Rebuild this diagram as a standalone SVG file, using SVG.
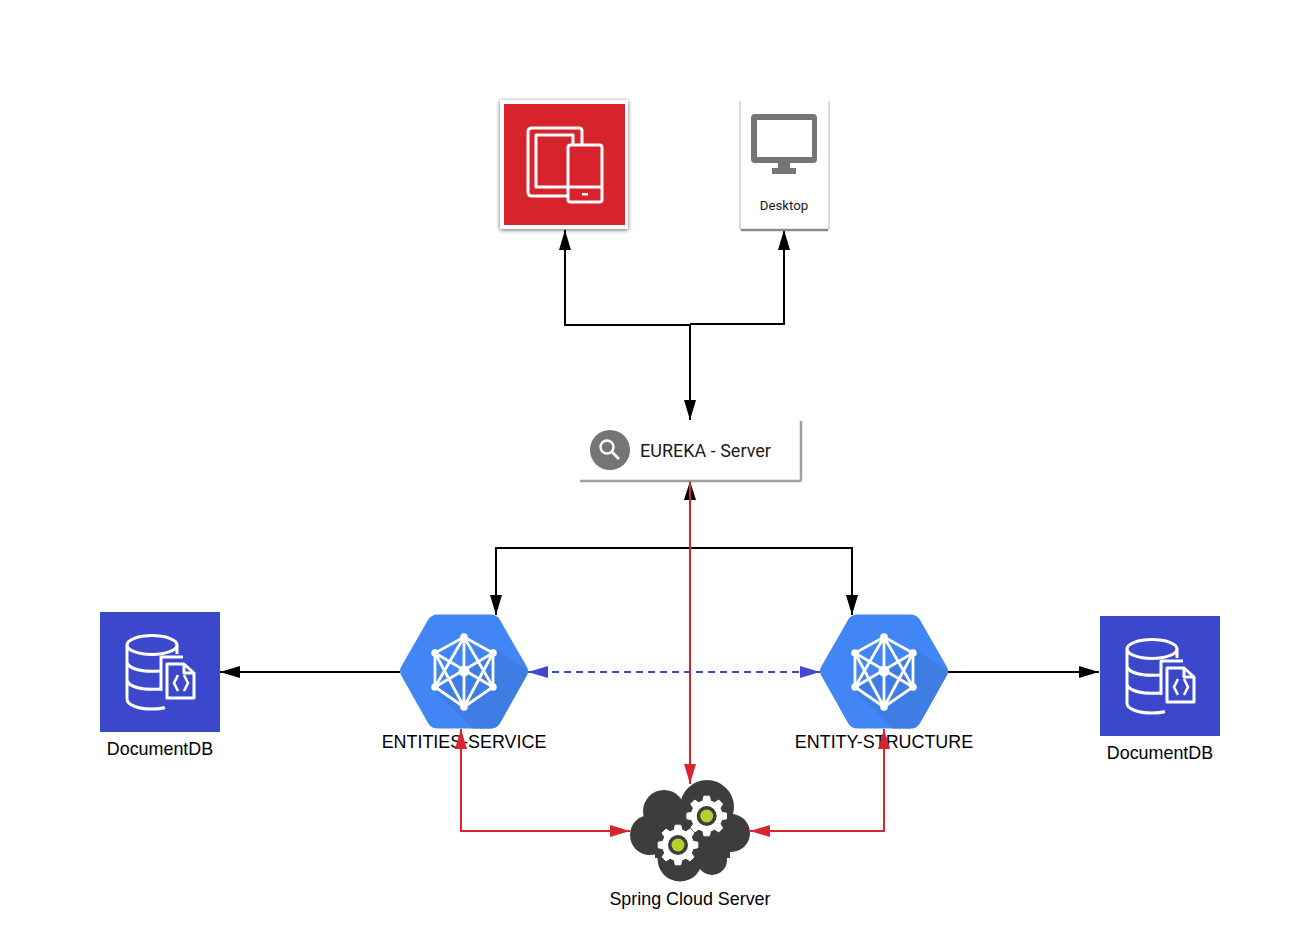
<svg xmlns="http://www.w3.org/2000/svg" width="1291" height="952" viewBox="0 0 1291 952">
<style>
text{font-family:"Liberation Sans",Arial,sans-serif;fill:#000}
.lbl{font-size:17.9px;text-anchor:middle}
.rob{font-family:Roboto,"Liberation Sans",sans-serif;fill:#1a1a1a}
.c{fill:none;stroke:#000;stroke-width:2}
.r{fill:none;stroke:#d9232d;stroke-width:2}
.b{fill:none;stroke:#3f48cc;stroke-width:2;stroke-dasharray:7 5}
.w{fill:none;stroke:#fff;stroke-width:3;stroke-linejoin:round}
.t{fill:none;stroke:#fff;stroke-width:2.8}
</style>
<defs>
<marker id="ak" markerUnits="userSpaceOnUse" viewBox="0 0 20 12" refX="20" refY="6" markerWidth="20" markerHeight="12" orient="auto-start-reverse"><path d="M0 0L20 6L0 12Z" fill="#000"/></marker>
<marker id="ar" markerUnits="userSpaceOnUse" viewBox="0 0 20 12" refX="20" refY="6" markerWidth="20" markerHeight="12" orient="auto-start-reverse"><path d="M0 0L20 6L0 12Z" fill="#d9232d"/></marker>
<marker id="ab" markerUnits="userSpaceOnUse" viewBox="0 0 20 12" refX="20" refY="6" markerWidth="20" markerHeight="12" orient="auto-start-reverse"><path d="M0 0L20 6L0 12Z" fill="#3f48cc"/></marker>
<filter id="sh" x="-10%" y="-10%" width="120%" height="120%"><feDropShadow dx="0" dy="1" stdDeviation="2" flood-color="#000" flood-opacity=".6"/></filter>
<g id="hex">
<path d="M428 620Q431 614.500 438 614.500H490Q497 614.500 500 620L527 667Q529 671 527 675L500 723Q497 728.500 490 728.500H438Q431 728.500 428 723L401 675Q399 671 401 667Z" fill="#4285f4"/>
<path d="M434 690L472.500 728.500H490Q497 728.500 500 723L527 675Q528 673 527.500 671L497 650Z" fill="#3d7de4"/>
<path d="M464 637L493 653V687L464 707L435 687V653Z" class="t"/>
<path d="M464 637V707M435 653L493 687M493 653L435 687M464 637L435 687M464 637L493 687M464 707L435 653M464 707L493 653" class="t"/>
<g fill="#fff"><circle cx="464" cy="637" r="3.800"/><circle cx="435" cy="653" r="3.800"/><circle cx="493" cy="653" r="3.800"/><circle cx="435" cy="687" r="3.800"/><circle cx="493" cy="687" r="3.800"/><circle cx="464" cy="707" r="3.800"/><circle cx="464" cy="671" r="5.500"/></g>
</g>
<g id="ddb">
<rect x="100" y="612" width="120" height="120" fill="#3b48cc"/>
<g class="w">
<ellipse cx="152" cy="645" rx="25" ry="9.500"/>
<path d="M127 645V699C127 705 138 709 152 709C157 709 162 708.500 165 707.500M177 645V654"/>
<path d="M127 663C130 669 142 672 160 671M127 681C130 687 142 690 160 689"/>
<path d="M161 691V657H183"/>
<path d="M167 698V664H184L194 673V698Z"/>
<path d="M184 664V673H194"/>
</g>
<path d="M178 675L174 683L178 691M184 675L188 683L184 691" fill="none" stroke="#fff" stroke-width="2.600"/>
</g>
<g id="gear">
<path d="M15.04-3.75L19.81-2.78L19.81 2.78L15.04 3.75L13.29 7.98L15.97 12.04L12.04 15.97L7.98 13.29L3.75 15.04L2.78 19.81L-2.78 19.81L-3.75 15.04L-7.98 13.29L-12.04 15.97L-15.97 12.04L-13.29 7.98L-15.04 3.75L-19.81 2.78L-19.81-2.78L-15.04-3.75L-13.29-7.98L-15.97-12.04L-12.04-15.97L-7.98-13.29L-3.75-15.04L-2.78-19.81L2.78-19.81L3.75-15.04L7.98-13.29L12.04-15.97L15.97-12.04L13.29-7.98Z" fill="#fff" stroke="#fff" stroke-width="1" stroke-linejoin="round"/>
<circle r="10" fill="#3d3d3d"/>
<circle r="6.500" fill="#b5d22c"/>
</g>
</defs>

<g id="connectors">
<path class="c" d="M690 325H565V230" marker-end="url(#ak)"/>
<path class="c" d="M690 324H784V230" marker-end="url(#ak)"/>
<path class="c" d="M690 325V420" marker-end="url(#ak)"/>
<path class="c" d="M496 615V548H852V615" marker-start="url(#ak)" marker-end="url(#ak)"/>
<path class="c" d="M400 672H220" marker-end="url(#ak)"/>
<path class="c" d="M948 672H1099" marker-end="url(#ak)"/>
<path class="b" d="M528 672H820" marker-start="url(#ab)" marker-end="url(#ab)"/>
</g>

<g id="node-mobile">
<rect x="500" y="100" width="128" height="129" fill="#fff" filter="url(#sh)"/>
<rect x="504" y="104" width="121" height="121" fill="#d6232c"/>
<g class="w">
<path d="M582 144V131Q582 128 579 128H532Q528 128 528 132V192Q528 196 532 196H567"/>
<path d="M573 144V135H536V187H567"/>
<rect x="568" y="145" width="34" height="57" rx="2.500"/>
<path d="M568 187H602"/>
</g>
<rect x="582" y="193" width="6" height="2.500" fill="#fff"/>
</g>

<g id="node-desktop">
<path d="M740 101V229Q740 230 741 230H828Q829 230 829 229V101" fill="#fff"/>
<path d="M740 101V228Q740 230 742 230H827Q829 230 829 228V101" fill="none" stroke="#b5b5b5" stroke-width="1"/>
<path d="M741 230H828" stroke="#8a8a8a" stroke-width="2.500"/>
<path d="M755 114H813Q817 114 817 118V159Q817 163 813 163H755Q751 163 751 159V118Q751 114 755 114ZM757 120V157H812V120Z" fill="#757575" fill-rule="evenodd"/>
<path d="M778 163H790V168H796V174H772V168H778Z" fill="#757575"/>
<text class="rob" x="784" y="209.500" font-size="13.300" text-anchor="middle">Desktop</text>
</g>

<g id="node-eureka">
<path d="M580 420H801V479Q801 481 799 481H580Z" fill="#fff"/>
<path d="M801 421V479Q801 481 799 481H580" fill="none" stroke="#a0a0a0" stroke-width="2.500"/>
<circle cx="610" cy="450" r="20" fill="#757575"/>
<circle cx="607" cy="447" r="6.500" fill="none" stroke="#fff" stroke-width="2.400"/>
<path d="M612 452L619 459" stroke="#fff" stroke-width="2.600"/>
<text class="rob" x="640" y="456.500" font-size="18">EUREKA - Server</text>
</g>

<g id="node-ddb1">
<use href="#ddb"/>
<text class="lbl" x="160" y="755">DocumentDB</text>
</g>

<g id="node-ddb2">
<use href="#ddb" x="1000" y="4"/>
<text class="lbl" x="1160" y="759">DocumentDB</text>
</g>

<g id="node-entities">
<use href="#hex"/>
<text class="lbl" x="464" y="747.500">ENTITIES-SERVICE</text>
</g>

<g id="node-structure">
<use href="#hex" x="420"/>
<text class="lbl" x="884" y="747.500">ENTITY-STRUCTURE</text>
</g>

<g id="node-cloud">
<g fill="#3d3d3d">
<circle cx="664" cy="811" r="21"/>
<circle cx="707" cy="807" r="27"/>
<circle cx="650" cy="835" r="20"/>
<circle cx="731" cy="833" r="19"/>
<circle cx="680" cy="859" r="22.500"/>
<circle cx="712" cy="860" r="15"/>
<rect x="655" y="810" width="75" height="48"/>
</g>
<use href="#gear" x="706.700" y="816"/>
<use href="#gear" x="678" y="845"/>
<text class="lbl" x="690" y="905">Spring Cloud Server</text>
</g>

<g id="red-connectors">
<path d="M684 500L690 481L696 500Z" fill="#000"/>
<path class="r" d="M690 482V784" marker-end="url(#ar)"/>
<path class="r" d="M630 831H461V729" marker-start="url(#ar)" marker-end="url(#ar)"/>
<path class="r" d="M750 831H884V729" marker-start="url(#ar)" marker-end="url(#ar)"/>
</g>
</svg>
